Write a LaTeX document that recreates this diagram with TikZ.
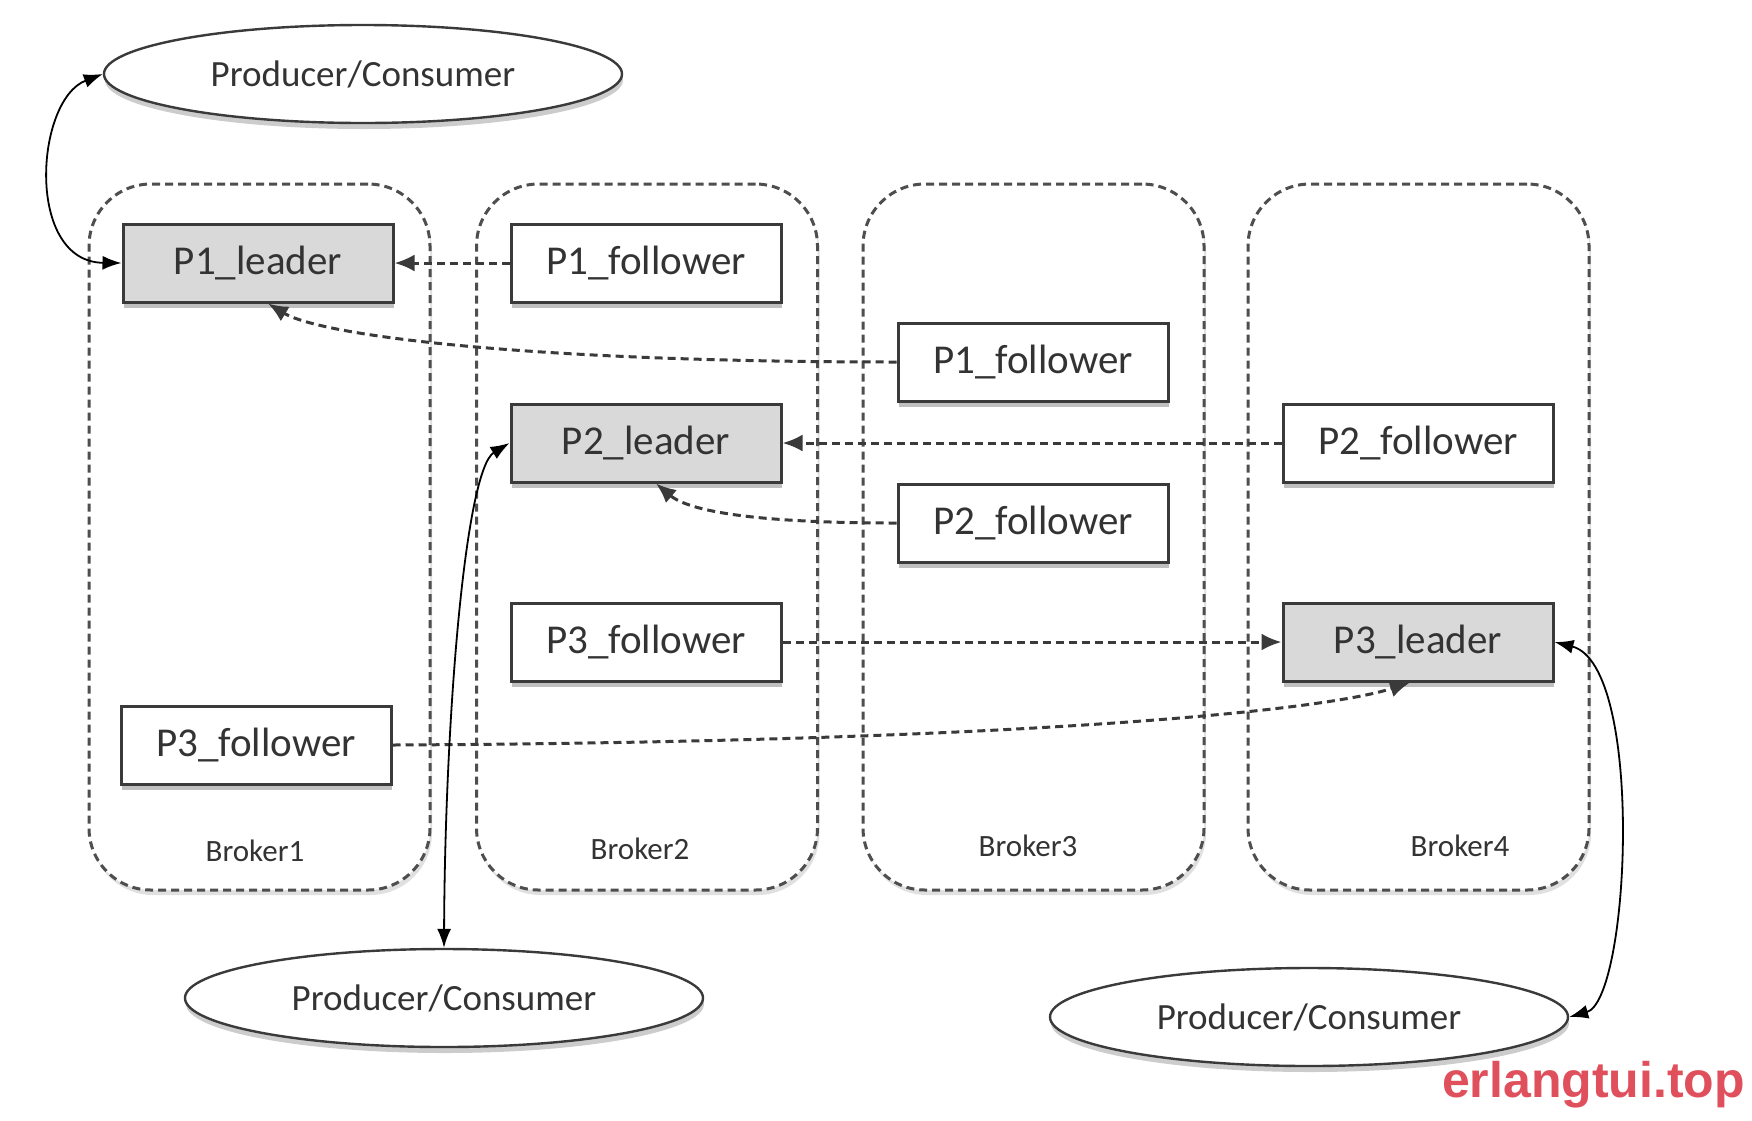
\documentclass[tikz,border=0pt]{standalone}
\usepackage{fontspec}
\setmainfont{Carlito}
\newfontfamily\wmfont{Liberation Sans}
\usetikzlibrary{arrows.meta,shapes.geometric,shadows}
\definecolor{edge}{HTML}{3A3A3A}
\definecolor{txt}{HTML}{333333}
\definecolor{boxgray}{HTML}{D9D9D9}
\definecolor{wmred}{HTML}{E0505C}
\tikzset{
  broker/.style={draw=edge!90, fill=white, line width=3pt, dash pattern=on 8pt off 5pt,
    rounded corners=62pt, minimum width=341pt, minimum height=706pt, inner sep=0pt,
    drop shadow={shadow xshift=2pt, shadow yshift=-5pt, fill=black, opacity=0.12}},
  part/.style={draw=edge, line width=3pt, fill=white, minimum width=270pt,
    minimum height=78pt, inner sep=0pt, text=txt, font=\fontsize{41}{48}\selectfont,
    drop shadow={shadow xshift=1pt, shadow yshift=-6pt, fill=black, opacity=0.25}},
  leader/.style={part, fill=boxgray},
  client/.style={ellipse, draw=edge, line width=2.4pt, fill=white, minimum width=518pt,
    minimum height=98pt, inner sep=0pt, text=txt, font=\fontsize{37}{44}\selectfont,
    drop shadow={shadow xshift=1pt, shadow yshift=-6pt, fill=black, opacity=0.2}},
  blabel/.style={text=txt, font=\fontsize{31}{36}\selectfont, inner sep=0pt},
  repl/.style={draw=edge, line width=3pt, dash pattern=on 8pt off 5pt,
    -{Latex[length=20pt,width=17pt]}},
  io/.style={draw=black, line width=1.8pt,
    {Latex[length=19pt,width=14pt]}-{Latex[length=19pt,width=14pt]}},
}
\begin{document}
\begin{tikzpicture}[x=1pt,y=-1pt]
\useasboundingbox (0,0) rectangle (1752,1120);
\fill[white] (0,0) rectangle (1752,1120);
% brokers
\node[broker] (b1) at (259.5,537) {};
\node[broker] (b2) at (647,537) {};
\node[broker] (b3) at (1033.5,537) {};
\node[broker] (b4) at (1418.5,537) {};
\node[blabel] (l1) at (255,851) {Broker1};
\node[blabel] (l2) at (640,849) {Broker2};
\node[blabel] (l3) at (1028,846) {Broker3};
\node[blabel] (l4) at (1460,846) {Broker4};
% partitions
\node[leader] (p1l) at (258,263) {P1\_leader};
\node[part] (p1f2) at (646,263) {P1\_follower};
\node[part] (p1f3) at (1033,362) {P1\_follower};
\node[leader] (p2l) at (646,443) {P2\_leader};
\node[part] (p2f4) at (1418,443) {P2\_follower};
\node[part] (p2f3) at (1033,523) {P2\_follower};
\node[part] (p3f2) at (646,642) {P3\_follower};
\node[leader] (p3l) at (1418,642) {P3\_leader};
\node[part] (p3f1) at (256,745) {P3\_follower};
% clients
\node[client] (pc1) at (363,74) {Producer/Consumer};
\node[client] (pc2) at (444,998) {Producer/Consumer};
\node[client] (pc3) at (1309,1017) {Producer/Consumer};
% replication
\draw[repl] (p1f2.west) -- (p1l.east);
\draw[repl] (p1f3.west) .. controls (520,362) and (320,335) .. ([xshift=10pt]p1l.south);
\draw[repl] (p2f4.west) -- (p2l.east);
\draw[repl] (p2f3.west) .. controls (760,523) and (690,512) .. ([xshift=10pt]p2l.south);
\draw[repl] (p3f2.east) -- (p3l.west);
\draw[repl] (p3f1.east) .. controls (1000,742) and (1320,712) .. ([xshift=-8pt]p3l.south);
% client connections
\draw[io] (pc1.west) .. controls (35,100) and (25,262) .. (p1l.west);
\draw[io] (p2l.west) .. controls (465,470) and (445,720) .. (pc2.north);
\draw[io] (p3l.east) .. controls (1645,665) and (1630,1000) .. (pc3.east);
% watermark
\node[text=wmred, font=\wmfont\bfseries\fontsize{50}{56}\selectfont, anchor=south east, inner sep=0pt] (wm) at (1745,1108) {erlangtui.top};
\end{tikzpicture}
\end{document}
